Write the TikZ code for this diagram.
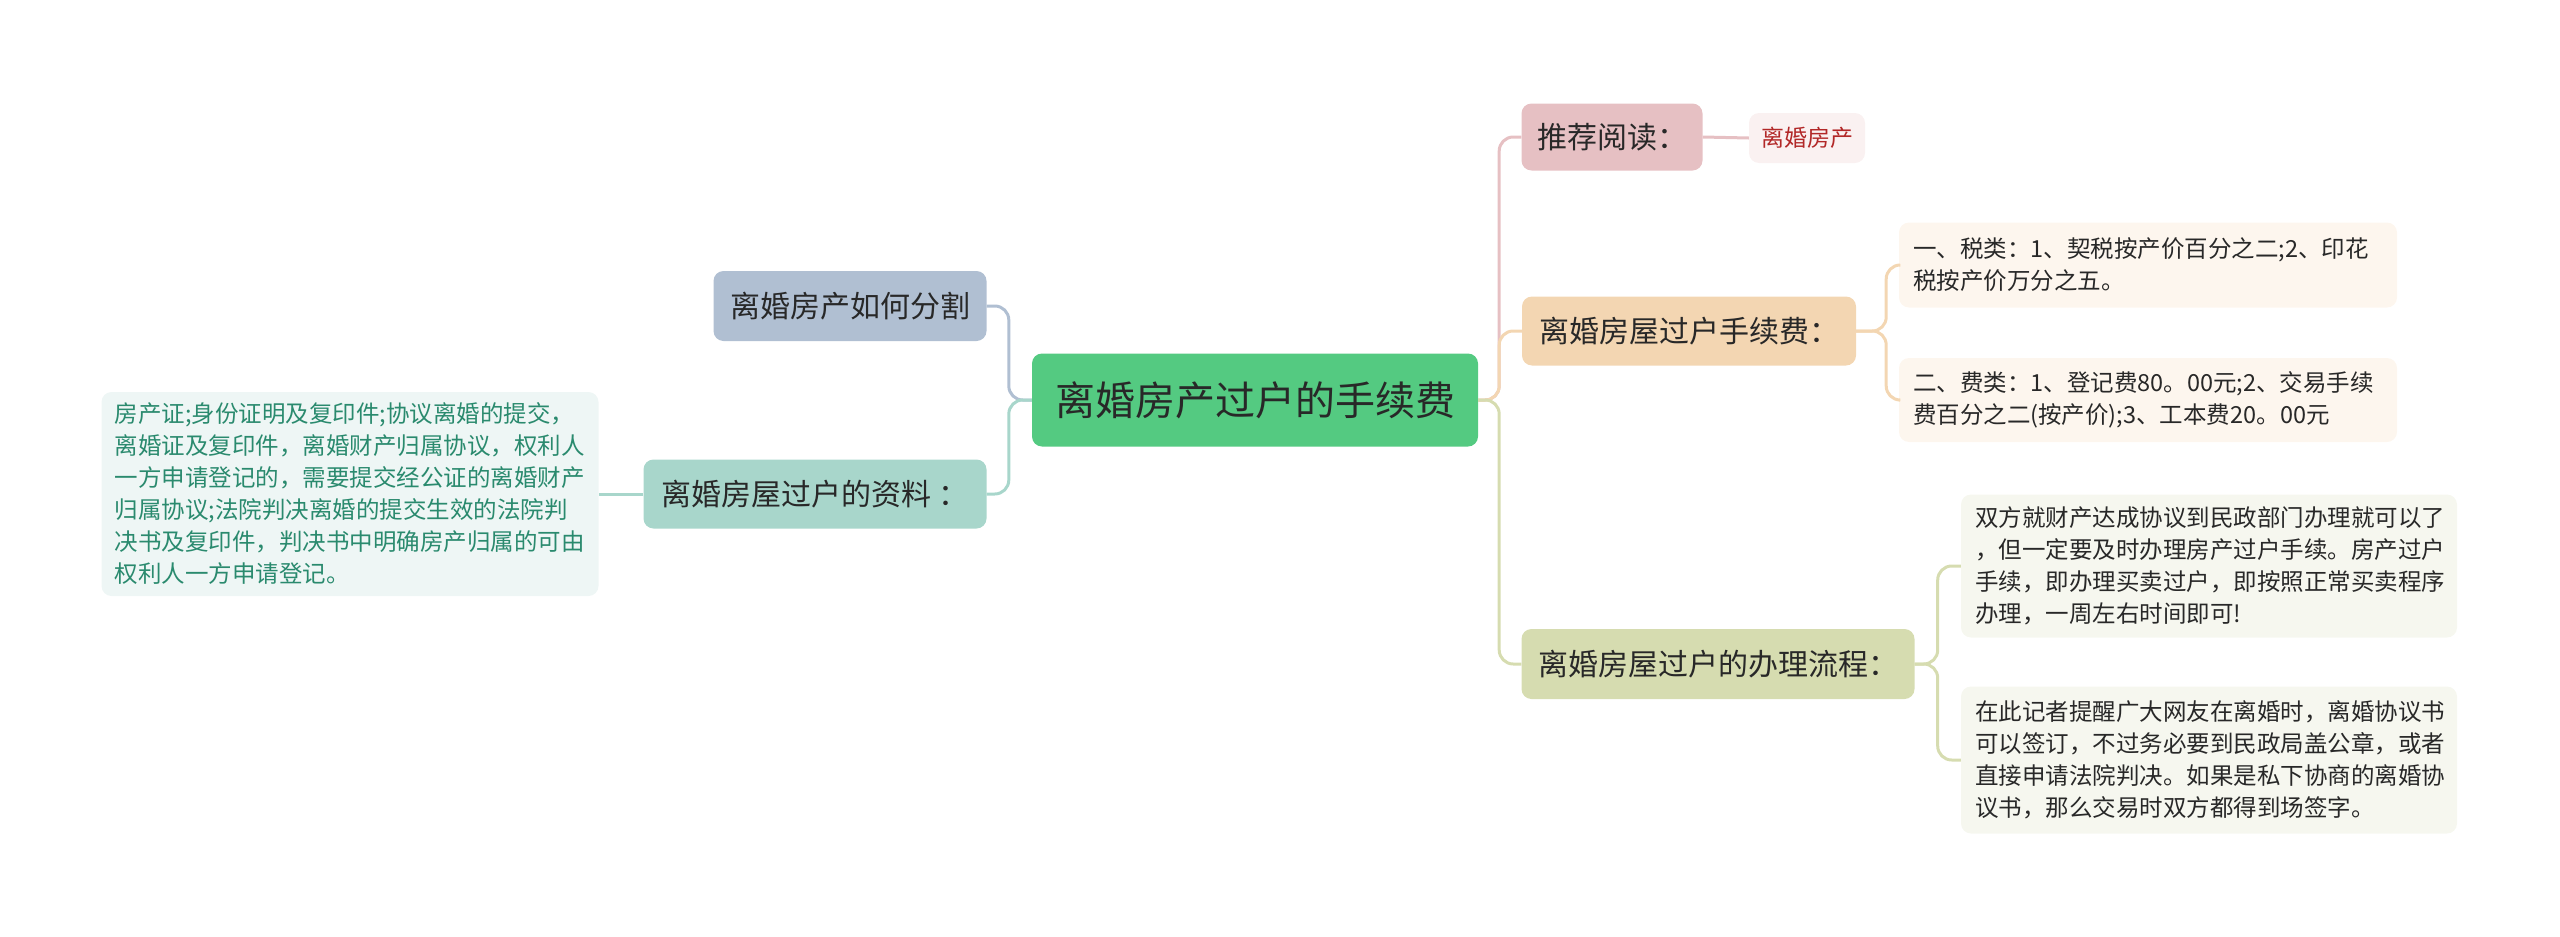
\documentclass[tikz,border=0pt]{standalone}
\usepackage{fontspec}
\setmainfont{Noto Sans CJK SC}
\definecolor{cgreen}{RGB}{84,202,129}
\definecolor{cblue}{RGB}{176,191,210}
\definecolor{cteal}{RGB}{168,214,203}
\definecolor{cteallight}{RGB}{238,246,245}
\definecolor{ctealtext}{RGB}{42,138,110}
\definecolor{cpink}{RGB}{230,192,195}
\definecolor{cpinklight}{RGB}{250,241,241}
\definecolor{credtext}{RGB}{178,40,40}
\definecolor{corange}{RGB}{243,214,178}
\definecolor{corangelight}{RGB}{253,246,238}
\definecolor{colive}{RGB}{214,220,176}
\definecolor{colivelight}{RGB}{246,247,239}
\definecolor{ctext}{RGB}{40,40,40}
\tikzset{
  box/.style={rectangle, rounded corners=10pt, inner sep=0pt, text=ctext, align=center},
  root/.style={box, fill=cgreen, font=\fontsize{40}{48}\selectfont},
  lvone/.style={box, font=\fontsize{30}{36}\selectfont},
  leaf/.style={box, align=left, font=\fontsize{23.5}{32}\selectfont},
  conn/.style={line width=3pt, rounded corners=14pt},
}
\begin{document}
\begin{tikzpicture}[x=1pt,y=-1pt]
\useasboundingbox (0,0) rectangle (2560,937);
% root
\node[root, minimum width=446pt, minimum height=93pt] (root) at (1255,400) {离婚房产过户的手续费};
% left side
\node[lvone, fill=cblue, minimum width=273pt, minimum height=70pt] (fenge) at (850,306) {离婚房产如何分割};
\node[lvone, fill=cteal, minimum width=343pt, minimum height=69pt] (ziliao) at (815,494) {离婚房屋过户的资料 ：};
\node[leaf, fill=cteallight, text=ctealtext, text width=471pt, minimum height=204pt, inner xsep=13pt] (zl) at (350,494)
 {房产证;身份证明及复印件;协议离婚的提交，\\离婚证及复印件，离婚财产归属协议，权利人\\一方申请登记的，需要提交经公证的离婚财产\\归属协议;法院判决离婚的提交生效的法院判\\决书及复印件，判决书中明确房产归属的可由\\权利人一方申请登记。};
% right side
\node[lvone, fill=cpink, minimum width=181pt, minimum height=67pt] (tuijian) at (1612,137) {推荐阅读：};
\node[box, fill=cpinklight, text=credtext, font=\fontsize{23}{28}\selectfont, minimum width=116pt, minimum height=50pt] (lhfc) at (1807,138) {离婚房产};
\node[lvone, fill=corange, minimum width=334pt, minimum height=69pt] (shouxu) at (1689,331) {离婚房屋过户手续费：};
\node[leaf, fill=corangelight, text width=470pt, minimum height=85pt, inner xsep=14pt] (s1) at (2148,265)
 {一、税类：1、契税按产价百分之二;2、印花\\税按产价万分之五。};
\node[leaf, fill=corangelight, text width=470pt, minimum height=84pt, inner xsep=14pt] (s2) at (2148,400)
 {二、费类：1、登记费80。00元;2、交易手续\\费百分之二(按产价);3、工本费20。00元};
\node[lvone, fill=colive, minimum width=393pt, minimum height=70pt] (liucheng) at (1718,664) {离婚房屋过户的办理流程：};
\node[leaf, fill=colivelight, text width=468pt, minimum height=143pt, inner xsep=14pt] (l1) at (2209,566)
 {双方就财产达成协议到民政部门办理就可以了\\，但一定要及时办理房产过户手续。房产过户\\手续，即办理买卖过户，即按照正常买卖程序\\办理，一周左右时间即可!};
\node[leaf, fill=colivelight, text width=468pt, minimum height=147pt, inner xsep=14pt] (l2) at (2209,760)
 {在此记者提醒广大网友在离婚时，离婚协议书\\可以签订，不过务必要到民政局盖公章，或者\\直接申请法院判决。如果是私下协商的离婚协\\议书，那么交易时双方都得到场签字。};
% connectors
\begin{scope}[on background layer/.style={}]
\draw[conn, cblue] (root.west) -- ++(-23,0) |- (fenge.east);
\draw[conn, cteal] (root.west) -- ++(-23,0) |- (ziliao.east);
\draw[conn, cteal] (ziliao.west) -- (zl.east);
\draw[conn, cpink] (root.east) -- ++(21,0) |- (tuijian.west);
\draw[conn, corange] (root.east) -- ++(21,0) |- (shouxu.west);
\draw[conn, colive] (root.east) -- ++(21,0) |- (liucheng.west);
\draw[conn, cpink] (tuijian.east) -- (lhfc.west);
\draw[conn, corange] (shouxu.east) -- ++(30,0) |- (s1.west);
\draw[conn, corange] (shouxu.east) -- ++(30,0) |- (s2.west);
\draw[conn, colive] (liucheng.east) -- ++(23,0) |- (l1.west);
\draw[conn, colive] (liucheng.east) -- ++(23,0) |- (l2.west);
\end{scope}
\end{tikzpicture}
\end{document}
